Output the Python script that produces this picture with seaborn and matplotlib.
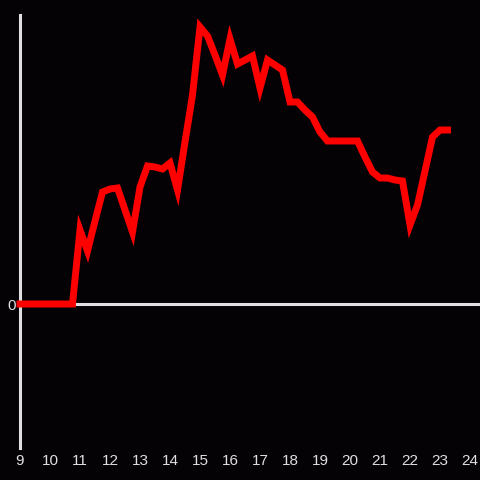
import numpy as np
import pandas as pd
import matplotlib
matplotlib.use("Agg")
import matplotlib.pyplot as plt
import seaborn as sns

# quarter-hour readings, 9:00 to 23:15
hours = [9.0, 9.25, 9.5, 9.75, 10.0, 10.25, 10.5, 10.75,
         11.0, 11.25, 11.5, 11.75, 12.0, 12.25, 12.5, 12.75,
         13.0, 13.25, 13.5, 13.75, 14.0, 14.25, 14.5, 14.75,
         15.0, 15.25, 15.5, 15.75, 16.0, 16.25, 16.5, 16.75,
         17.0, 17.25, 17.5, 17.75, 18.0, 18.25, 18.5, 18.75,
         19.0, 19.25, 19.5, 19.75, 20.0, 20.25, 20.5, 20.75,
         21.0, 21.25, 21.5, 21.75, 22.0, 22.25, 22.5, 22.75,
         23.0, 23.25]
values = [0, 0, 0, 0, 0, 0, 0, 0,
          74, 53, 83, 112, 115, 116, 94, 72,
          117, 138, 137, 135, 141, 114, 162, 209,
          277, 268, 249, 229, 265, 240, 244, 248,
          216, 244, 239, 234, 202, 202, 194, 187,
          172, 163, 163, 163, 163, 163, 147, 132,
          126, 126, 124, 123, 79, 99, 133, 167,
          174, 174]
xticks = list(range(9, 25))

df = pd.DataFrame({"hour": hours, "value": values})

bg = "#040205"
fg = "#e0e0e0"
sns.set_style("dark")
plt.rcParams["font.family"] = ["Liberation Sans", "DejaVu Sans"]

fig = plt.figure(figsize=(4.8, 4.8), dpi=100, facecolor=bg)
ax = fig.add_axes([20 / 480, 32 / 480, 460 / 480, 433 / 480])
ax.set_facecolor(bg)

ax.axhline(0, color=fg, lw=2.2, zorder=1)
sns.lineplot(data=df, x="hour", y="value", color="#ff0000", lw=5,
             solid_capstyle="projecting", solid_joinstyle="miter", ax=ax,
             zorder=3, clip_on=False)

ax.set_xlim(9, 9 + 460 / 30)
ax.set_ylim(-144, 289)
ax.set_xticks(xticks)
ax.set_xticklabels([str(t) for t in xticks])
ax.set_yticks([0])
ax.set_yticklabels(["0"])
ax.tick_params(colors=fg, labelsize=11, length=0, pad=4)
ax.tick_params(axis="y", pad=3)
ax.set_xlabel("")
ax.set_ylabel("")
ax.grid(False)
for s in ["top", "right", "bottom"]:
    ax.spines[s].set_visible(False)
ax.spines["left"].set_color(fg)
ax.spines["left"].set_linewidth(2.2)
ax.spines["left"].set_zorder(2)

fig.savefig("out.png", dpi=100, facecolor=bg)
